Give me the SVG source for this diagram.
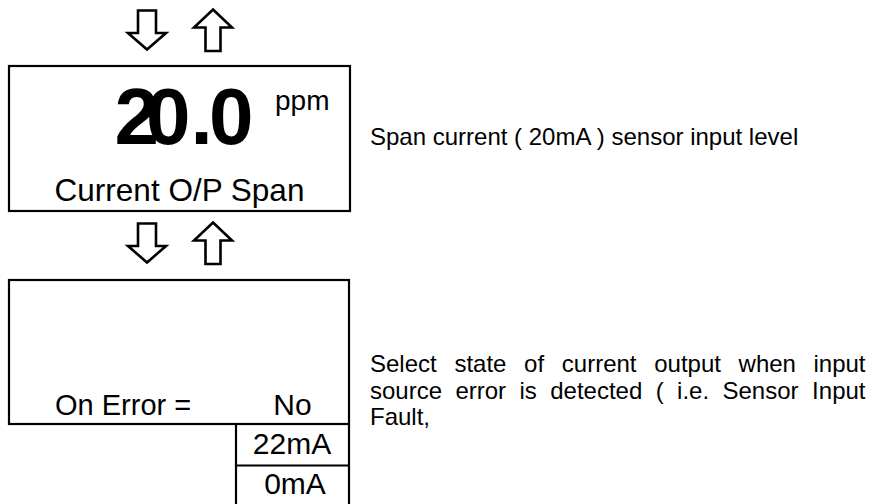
<svg xmlns="http://www.w3.org/2000/svg" width="871" height="504" viewBox="0 0 871 504">
<defs>
<style>
.box{fill:#fff;stroke:#000;stroke-width:2.2}
.ln{fill:none;stroke:#000;stroke-width:2.2}
.arr{fill:#fff;stroke:#000;stroke-width:2.6;stroke-linejoin:miter}
.t{font-family:"Liberation Sans",Arial,sans-serif;fill:#000}
.lbl{font-size:30px}
.desc{font-size:24px}
</style>
<path id="down" d="M138,10.5 H156 V33 H166 L147,49.5 L128,33 H138 Z"/>
<path id="up" d="M213,9.5 L232,27.5 H220.5 V51 H205.5 V27.5 H194 Z"/>
</defs>
<rect width="871" height="504" fill="#fff"/>
<g id="connectors">
<use href="#down" class="arr"/>
<use href="#up" class="arr"/>
<use href="#down" class="arr" transform="translate(0,213)"/>
<use href="#up" class="arr" transform="translate(0,213)"/>
</g>
<g id="span-node">
<rect class="box" x="9" y="66" width="341" height="145"/>
<text class="t" font-size="80" font-weight="bold" y="144" x="114.6 146 190.5 209">20.0</text>
<text class="t" font-size="28" x="275" y="110">ppm</text>
<text class="t" font-size="31.5" x="179.5" y="201" text-anchor="middle">Current O/P Span</text>
</g>
<g id="error-node">
<rect class="box" x="9" y="280" width="340" height="144"/>
<text class="t" font-size="29" x="55" y="415">On Error =</text>
<text class="t lbl" x="292.5" y="415" text-anchor="middle">No</text>
<path class="ln" d="M236,424 V504 M349,424 V504 M236,465.5 H349"/>
<text class="t lbl" x="292" y="454" text-anchor="middle">22mA</text>
<text class="t lbl" x="295" y="494" text-anchor="middle">0mA</text>
</g>
<g id="descriptions">
<text class="t desc" x="370" y="145">Span current ( 20mA ) sensor input level</text>
<text class="t desc" y="372"><tspan x="370">Select</tspan><tspan x="454.4">state</tspan><tspan x="524.1">of</tspan><tspan x="561.8">current</tspan><tspan x="654.2">output</tspan><tspan x="738.6">when</tspan><tspan x="865.5" text-anchor="end">input</tspan></text>
<text class="t desc" y="398.5"><tspan x="370">source</tspan><tspan x="455.4">error</tspan><tspan x="519.5">is</tspan><tspan x="550.2">detected</tspan><tspan x="655.7">(</tspan><tspan x="677.1">i.e.</tspan><tspan x="722.5">Sensor</tspan><tspan x="865.5" text-anchor="end">Input</tspan></text>
<text class="t desc" x="370" y="425">Fault,</text>
</g>
</svg>
